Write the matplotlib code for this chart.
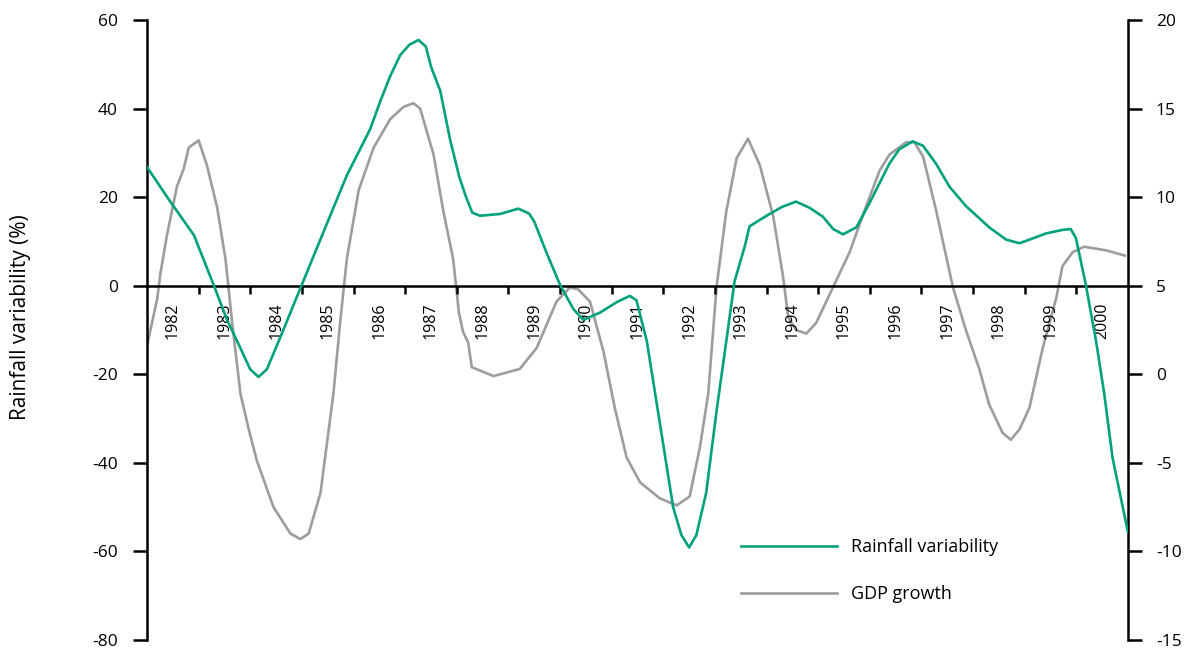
import numpy as np
import matplotlib
matplotlib.use('Agg')
import matplotlib.pyplot as plt

plt.rcParams['font.family'] = ['Open Sans', 'DejaVu Sans']
plt.rcParams['axes.unicode_minus'] = False

# rainfall variability (%), left axis
rain_t = [1982.0, 1982.45, 1982.91, 1983.29, 1983.55, 1983.81, 1984.0, 1984.16, 1984.32, 1984.58,
          1984.97, 1985.42, 1985.87, 1986.32, 1986.52, 1986.71, 1986.90, 1987.08, 1987.26, 1987.40,
          1987.50, 1987.68, 1987.87, 1988.05, 1988.18, 1988.30, 1988.45, 1988.84, 1989.19, 1989.40,
          1989.50, 1989.74, 1990.0, 1990.26, 1990.45, 1990.77, 1991.10, 1991.35, 1991.48, 1991.68,
          1991.93, 1992.19, 1992.35, 1992.50, 1992.64, 1992.83, 1993.03, 1993.22, 1993.38, 1993.58,
          1993.67, 1994.0, 1994.3, 1994.57, 1994.83, 1995.09, 1995.29, 1995.48, 1995.74, 1996.0,
          1996.38, 1996.57, 1996.83, 1997.03, 1997.28, 1997.54, 1997.86, 1998.31, 1998.64, 1998.90,
          1999.09, 1999.41, 1999.73, 1999.89, 1999.99, 2000.18, 2000.38, 2000.54, 2000.70, 2001.0]
rain_v = [26.8, 19.0, 11.4, 0.2, -7.7, -14.1, -18.9, -20.6, -18.9, -11.7,
          -0.6, 12.2, 24.9, 35.3, 41.7, 47.3, 52.0, 54.4, 55.5, 54.0,
          49.5, 44.0, 33.0, 24.5, 20.0, 16.5, 15.8, 16.2, 17.4, 16.3,
          14.5, 7.4, 0.2, -5.3, -7.7, -6.1, -3.7, -2.3, -3.3, -12.5,
          -30.8, -50.0, -56.3, -59.1, -56.3, -46.8, -28.4, -12.5, 1.0, 9.0,
          13.4, 15.8, 17.8, 19.0, 17.6, 15.6, 12.8, 11.6, 13.2, 18.8,
          27.6, 30.8, 32.6, 31.6, 27.6, 22.4, 18.0, 13.2, 10.4, 9.6,
          10.4, 11.8, 12.6, 12.8, 10.8, 0.4, -12.4, -24.4, -38.8, -55.7]

# GDP growth (%), right axis
gdp_t = [1982.0, 1982.2, 1982.26, 1982.39, 1982.58, 1982.71, 1982.81, 1983.0, 1983.16, 1983.36,
         1983.52, 1983.65, 1983.81, 1983.97, 1984.13, 1984.45, 1984.78, 1984.97, 1985.13, 1985.36,
         1985.61, 1985.74, 1985.87, 1986.10, 1986.39, 1986.71, 1986.97, 1987.16, 1987.29, 1987.55,
         1987.74, 1987.93, 1988.04, 1988.12, 1988.22, 1988.29, 1988.71, 1989.22, 1989.55, 1989.93,
         1990.19, 1990.35, 1990.58, 1990.84, 1991.06, 1991.29, 1991.55, 1991.93, 1992.26, 1992.51,
         1992.71, 1992.87, 1993.03, 1993.22, 1993.42, 1993.64, 1993.87, 1994.13, 1994.32, 1994.42,
         1994.57, 1994.77, 1994.96, 1995.22, 1995.61, 1995.93, 1996.19, 1996.38, 1996.70, 1996.86,
         1997.03, 1997.28, 1997.61, 1997.86, 1998.12, 1998.31, 1998.57, 1998.73, 1998.90, 1999.09,
         1999.35, 1999.61, 1999.73, 1999.93, 2000.15, 2000.57, 2000.94]
gdp_v = [1.6, 4.3, 5.7, 7.9, 10.6, 11.6, 12.8, 13.2, 11.8, 9.4,
         6.5, 2.9, -1.1, -3.1, -4.9, -7.5, -9.0, -9.3, -9.0, -6.7,
         -1.1, 2.9, 6.5, 10.4, 12.8, 14.4, 15.1, 15.3, 15.0, 12.4,
         9.2, 6.5, 3.5, 2.4, 1.8, 0.4, -0.1, 0.3, 1.5, 4.1,
         4.9, 4.8, 4.1, 1.3, -1.9, -4.7, -6.1, -7.0, -7.4, -6.9,
         -4.1, -1.1, 4.9, 9.2, 12.2, 13.3, 11.8, 8.9, 5.5, 3.2,
         2.5, 2.3, 2.9, 4.5, 6.9, 9.5, 11.5, 12.4, 13.1, 13.1,
         12.3, 9.3, 4.9, 2.5, 0.3, -1.7, -3.3, -3.7, -3.1, -1.9,
         1.5, 4.3, 6.1, 6.9, 7.2, 7.0, 6.7]

years = list(range(1982, 2001))
left_ticks = [60, 40, 20, 0, -20, -40, -60, -80]
right_ticks = [20, 15, 10, 5, 0, -5, -10, -15]

green = '#00a27b'
grey = '#9d9d9f'

fig = plt.figure(figsize=(11.85, 6.53), dpi=100)
ax = fig.add_axes([147 / 1185, 13 / 653, 981 / 1185, 620 / 653])
ax2 = ax.twinx()
ax.set_zorder(ax2.get_zorder() + 1)
ax.patch.set_visible(False)

l2, = ax2.plot(gdp_t, gdp_v, color=grey, lw=1.9, zorder=3, solid_joinstyle='round')
l1, = ax.plot(rain_t, rain_v, color=green, lw=1.9, zorder=3, solid_joinstyle='round')

ax.set_xlim(1982, 2001)
ax.set_ylim(-80, 60)
ax2.set_ylim(-15, 20)

# spines
for s in ['top', 'right']:
    ax.spines[s].set_visible(False)
for s in ['top', 'left', 'bottom']:
    ax2.spines[s].set_visible(False)
ax.spines['bottom'].set_position(('data', 0))
ax.spines['bottom'].set_linewidth(1.8)
ax.spines['left'].set_linewidth(1.8)
ax2.spines['right'].set_linewidth(1.8)

# x ticks: marks at year boundaries, labels centred in each year
ax.set_xticks(range(1983, 2001))
ax.set_xticklabels([])
ax.set_xticks([y + 0.5 for y in years], minor=True)
ax.set_xticklabels([str(y) for y in years], minor=True)
ax.tick_params(axis='x', which='major', direction='out', length=6, width=1.8)
ax.tick_params(axis='x', which='minor', length=0, pad=12, labelrotation=90, labelsize=11.5)

ax.set_yticks(left_ticks)
ax.tick_params(axis='y', direction='out', length=10, width=1.8, pad=11, labelsize=12.5)
ax2.set_yticks(right_ticks)
ax2.tick_params(axis='y', direction='out', length=10, width=1.8, pad=10, labelsize=12.5)

ax.set_ylabel('Rainfall variability (%)', fontsize=15)
ax.yaxis.set_label_coords(-0.118, 0.52)

fig.legend([l1, l2], ['Rainfall variability', 'GDP growth'], loc='upper left',
           bbox_to_anchor=(741 / 1185, 1 - 538 / 653), frameon=False, fontsize=13,
           handlelength=5.3, handletextpad=0.8, labelspacing=1.6, borderaxespad=0, borderpad=0)

fig.savefig('out.png', dpi=100)
